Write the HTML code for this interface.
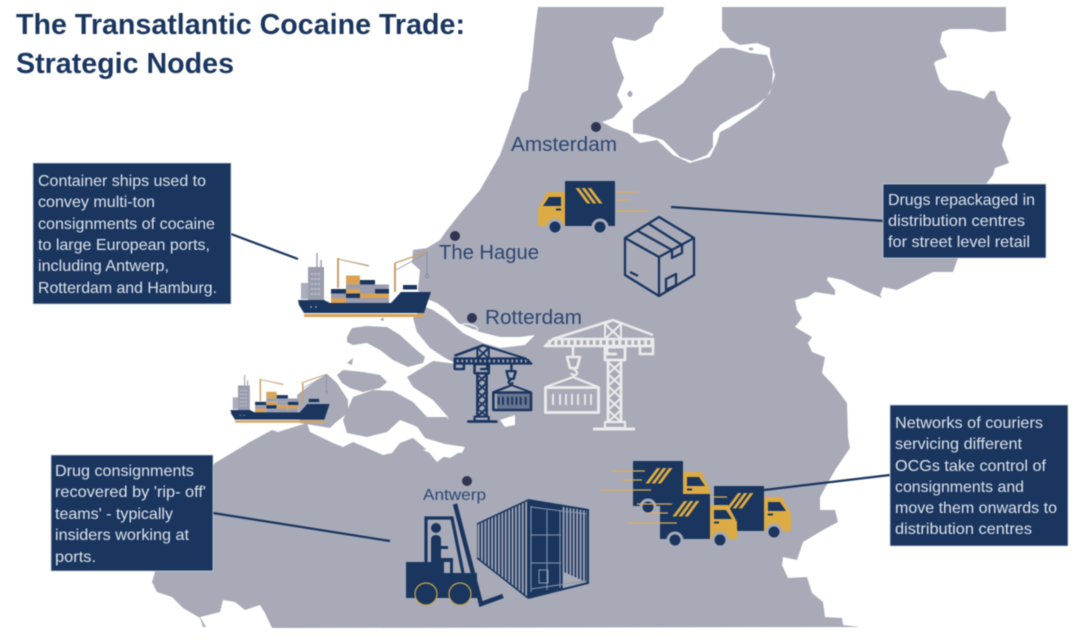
<!DOCTYPE html>
<html lang="en"><head><meta charset="utf-8"><title>The Transatlantic Cocaine Trade: Strategic Nodes</title>
<style>
html,body{margin:0;padding:0;background:#fff}
svg{display:block;filter:blur(.4px)}
.tt{font:bold 28.5px "Liberation Sans",sans-serif;fill:#1a365f}
.c{font:20px "Liberation Sans",sans-serif;fill:#2d4670}
.b{font:15.6px "Liberation Sans",sans-serif;fill:#dde1ea}
.box{fill:#1a365f;stroke:#c5ccd9;stroke-width:.8}
.con{stroke:#1a365f;stroke-width:2.2;fill:none}
</style></head><body>
<svg width="1080" height="640" viewBox="0 0 1080 640" xmlns="http://www.w3.org/2000/svg">
<defs>
<pattern id="cor" width="3.4" height="10" patternUnits="userSpaceOnUse"><rect width="3.4" height="10" fill="#a8aab8"/><rect width="1.7" height="10" fill="#1a365f"/></pattern>
<g id="ship">
 <rect x="308" y="267" width="16" height="33" fill="#9a9dae"/><rect x="301" y="283" width="7" height="16" fill="#a9acba"/>
 <path d="M317 253V267M321 260V267" stroke="#9a9dae" stroke-width="1.4"/>
 <path d="M311 274H321M311 279H321M311 284H321M311 289H321M311 294H321" stroke="#c4c6d0" stroke-width="1.5" stroke-dasharray="2.2 1.2"/>
 <rect x="331" y="289" width="15" height="4.5" fill="#1a365f"/><rect x="331" y="293.5" width="15" height="4.5" fill="#9a9dae"/><rect x="331" y="298" width="15" height="5" fill="#d9a257"/>
 <rect x="346" y="275.5" width="14" height="4.5" fill="#d9a257"/><rect x="346" y="280" width="14" height="4.5" fill="#d9a257"/><rect x="346" y="284.5" width="14" height="4.5" fill="#9a9dae"/><rect x="346" y="289" width="14" height="4.5" fill="#d9a257"/><rect x="346" y="293.5" width="14" height="4.5" fill="#1a365f"/><rect x="346" y="298" width="14" height="5" fill="#9a9dae"/>
 <rect x="360" y="280" width="15" height="4.5" fill="#1a365f"/><rect x="360" y="284.5" width="15" height="4.5" fill="#9a9dae"/><rect x="360" y="289" width="15" height="4.5" fill="#9a9dae"/><rect x="360" y="293.5" width="15" height="4.5" fill="#d9a257"/><rect x="360" y="298" width="15" height="5" fill="#9a9dae"/>
 <rect x="375" y="284.5" width="14" height="4.5" fill="#9a9dae"/><rect x="375" y="289" width="14" height="4.5" fill="#1a365f"/><rect x="375" y="293.5" width="14" height="4.5" fill="#d9a257"/><rect x="375" y="298" width="14" height="5" fill="#9a9dae"/>
 <path d="M338 258V288M395 263V292" stroke="#c9a06a" stroke-width="2"/>
 <path d="M338 259L369 266" stroke="#c9a06a" stroke-width="1.4"/><path d="M339 259L369 265" stroke="#ccced8" stroke-width=".8"/>
 <path d="M395 263L427 252" stroke="#c9a06a" stroke-width="1.4"/><path d="M396 270L427 253" stroke="#8f9ab0" stroke-width=".8"/>
 <path d="M427 252V275" stroke="#7d87a0" stroke-width=".8" fill="none"/><circle cx="427" cy="276" r="1.6" fill="none" stroke="#7d87a0" stroke-width=".8"/>
 <rect x="403" y="285" width="14" height="4.5" fill="#1a365f"/>
 <path d="M298 300H324L330 303H391L401 292H431L424 313H304L299 305Z" fill="#1a365f"/>
 <rect x="304" y="314" width="120" height="3" fill="#d9a257"/>
 <circle cx="311" cy="307" r=".7" fill="#dde1ea"/><circle cx="316" cy="307" r=".7" fill="#dde1ea"/>
</g>
<g id="crane" fill="none" stroke-linejoin="round">
 <path d="M545 346L553 339H653V346Z" stroke-width="2.5"/>
 <path d="M548 342.5H652" stroke-width="5" stroke-dasharray="3 3.4"/>
 <path d="M553 339L613 320L653 335" stroke-width="2.5"/>
 <path d="M605 339V324L613 320L621 324V339M605 324L621 339M621 324L605 339" stroke-width="2"/>
 <path d="M605 347H625V360H605ZM607 347V354H617" stroke-width="2.8"/>
 <rect x="640" y="346" width="13" height="8" stroke-width="2.6"/>
 <path d="M608 360V422M621 360V422" stroke-width="2.8"/>
 <path d="M608 362L621 374L608 386L621 398L608 410L621 422M621 362L608 374L621 386L608 398L621 410L608 422" stroke-width="2"/>
 <rect x="605" y="422" width="20" height="6" stroke-width="2.2"/>
 <path d="M593 429H635" stroke-width="3"/>
 <path d="M573 346V357" stroke-width="2.6"/>
 <path d="M567 357H580L577 368H570Z" stroke-width="2.6"/>
 <path d="M573 368L577 372C578 376 572 376 571 373M573 377L546 387M573 377L598 387" stroke-width="2.2"/>
 <rect x="545.5" y="387.5" width="53" height="25" stroke-width="2.8"/>
 <path d="M553 394V405M560 394V405M566 394V405M572 394V405M578 394V405M585 394V405M591 394V405" stroke-width="1.8"/>
</g>
<g id="truck">
 <path d="M50 11H68L77 28V45H50Z" fill="#dcab44"/>
 <path d="M54 16H66L72 25H54Z" fill="#1a365f"/><rect x="54" y="27.5" width="5" height="2" fill="#1a365f"/>
 <rect width="50" height="45" fill="#1a365f"/>
 <path d="M24 7H27.5L16 22.5H12.5ZM30 7H33.5L22 22.5H18.5ZM36 7H39.5L28 22.5H24.5Z" fill="#dcab44"/>
 <circle cx="15" cy="46" r="8.5" fill="#a8aab8"/><circle cx="60" cy="46" r="8.5" fill="#a8aab8"/>
 <circle cx="15" cy="46" r="5.5" fill="#1a365f"/><circle cx="60" cy="46" r="5.5" fill="#1a365f"/>
</g>
</defs>

<!-- map -->
<polygon fill="#a8aab8" points="538,7 1006,7 1006,31 990,32 975,29 950,29 942,32 940,42 945,52 947,57 936,61 934,63 936,70 940,82 948,90 960,91 975,96 984,99 990,91 995,91 998,101 1005,108 1011,118 1005,133 1002,145 1006,155 1009,163 995,168 993,175 986,184 965,250 958,258 953,272 933,272 917,280 897,290 883,287 880,295 882,298 863,290 843,280 828,277 827,280 835,290 835,295 815,292 808,297 795,300 797,310 802,318 795,327 812,337 808,343 812,352 825,357 822,373 835,387 847,403 848,437 850,448 835,470 820,497 820,510 835,510 838,522 823,530 803,542 797,560 783,557 782,565 788,578 807,577 812,593 823,602 825,617 842,618 843,625 860,627 272,628 265,613 260,605 245,610 235,602 223,600 220,612 200,617 206,627 203,627 200,618 183,608 172,597 157,592 152,582 155,572 180,500 215,463 250,442 272,430 278,432 307,423 310,432 333,443 343,447 353,442 367,448 383,455 392,453 400,443 413,438 427,450 437,462 450,452 462,453 465,447 445,444 425,438 418,428 424,424 437,430 449,425 448,417 433,400 413,387 407,377 433,361 457,364 445,358 430,348 417,332 413,318 428,302 418,290 420,270 412,263 413,250 427,248 440,240 447,230 463,210 480,190 500,155 522,93 528,90 532,60 535,30"/>
<!-- delta islands -->
<g fill="#a8aab8">
<polygon points="347,337 352,328 367,326 387,327 400,335 413,347 425,357 423,363 408,367 393,360 380,350 367,343 353,345 347,342"/>
<polygon points="347,363 353,358 352,365"/><polygon points="380,320 383,317 384,321"/>
<polygon points="337,375 343,370 363,372 380,375 387,382 380,388 363,392 350,388 342,383"/>
<polygon points="353,397 373,390 393,391 413,402 427,417 447,417 452,427 445,433 430,434 413,425 400,420 387,432 367,437 347,433 343,420"/>
<polygon points="297,395 310,385 327,374 337,383 348,400 348,413 335,423 330,428 300,423"/>
</g>
<!-- channels and lake -->
<g fill="#fff">
<polygon points="427,299 437,303 447,310 458,323 480,332 500,337 520,337 535,335 525,345 500,348 483,343 463,333 448,320 433,310 420,305"/>
<polygon points="500,420 515,415 515,425 505,427"/>
<polygon points="423,450 440,447 463,450 450,458 435,455"/>
<polygon points="664,7 663,15 655,23 652,32 635,41 615,37 612,42 617,60 624,78 617,95 623,107 613,118 602,122 613,128 628,133 640,143 657,140 673,155 690,163 710,157 717,143 720,132 730,127 757,108 770,93 775,75 770,55 770,48 757,43 740,45 730,40 722,30 722,7"/>
</g>
<ellipse cx="470" cy="327" rx="8" ry="2.5" fill="none" stroke="#fff" stroke-width="1" transform="rotate(15 470 327)"/>
<polygon fill="#a8aab8" points="633,120 640,113 660,100 683,83 695,67 720,48 733,48 750,53 767,55 773,70 772,87 767,97 753,107 733,117 720,125 713,133 713,147 707,155 692,161 680,157 663,140 647,135 633,133"/>
<ellipse cx="630" cy="94" rx="2.5" ry="3" fill="#a8aab8"/><ellipse cx="751" cy="49" rx="2.5" ry="1.5" fill="#a8aab8"/>

<!-- connectors -->
<path class="con" d="M231 234L298 259M671 207L884 221M764 490L890 475M213 513L390 541"/>

<!-- ships -->
<use href="#ship"/>
<use href="#ship" transform="translate(8.5 186.5) scale(.745)"/>

<!-- cranes -->
<use href="#crane" stroke="#ecebeb"/>
<use href="#crane" stroke="#1a365f" transform="matrix(-.71 0 0 .7 918 121)"/>
<use href="#crane" stroke="#1a365f" transform="matrix(-.71 0 0 .7 918.6 121.5)"/>
<rect x="497" y="393" width="35" height="16" fill="#1a365f" opacity=".45"/>

<!-- box -->
<g fill="none" stroke="#1a365f" stroke-width="2.3" stroke-linejoin="round">
<path d="M659 217L694 238V275L659 296L625 275V238ZM625 238L659 257L694 238M659 257V296M638 231L672 250V258L682 253V245L649 224"/>
<path d="M666 279L676 274V285L666 290ZM630 272L638 276"/>
</g>

<!-- trucks -->
<g stroke="#d9ae5a" stroke-width="1.2">
<path d="M603 192H637M607 200H628M599 211H648"/>
</g>
<use href="#truck" transform="translate(615 181) scale(-1 1)"/>
<use href="#truck" transform="translate(633 461)"/>
<use href="#truck" transform="translate(714 486)"/>
<use href="#truck" transform="translate(660 494)"/>
<g stroke="#d9ae5a" stroke-width="1.2">
<path d="M612 471H645M621 480H642M601 490H651M637 504H672M647 513H668M627 523H677M710 497H727"/>
</g>

<!-- forklift -->
<g>
<path d="M406 562H444V573H477V598H406Z" fill="#1a365f"/>
<path d="M426 562V518H452L463 573" fill="none" stroke="#1a365f" stroke-width="3.2"/>
<circle cx="436" cy="528" r="5" fill="#1a365f"/>
<path d="M431 540Q431 535 436 535Q441 535 441 540V546H448V549H441V558H453V573H450V562H431Z" fill="#1a365f"/>
<circle cx="426" cy="594" r="11" fill="#1a365f" stroke="#c9a44e" stroke-width="1.2"/>
<circle cx="460" cy="594" r="11" fill="#1a365f" stroke="#c9a44e" stroke-width="1.2"/>
<path d="M455 504L481 604L503 596" fill="none" stroke="#1a365f" stroke-width="4.5"/>
</g>

<!-- shipping container -->
<g>
<polygon points="477,524 528,500 528,598 477,558" fill="url(#cor)"/>
<path d="M477 524L528 500M477 558L528 598" stroke="#1a365f" stroke-width="1.5"/>
<polygon points="528,500 562,506 562,590 528,598" fill="#1a365f"/>
<polygon points="562,506 588,510 588,583 562,590" fill="url(#cor)"/>
<polygon points="564,572 588,583 564,588" fill="#a8aab8"/>
<path d="M528 500L588 510V583L528 598" fill="none" stroke="#1a365f" stroke-width="2"/>
<path d="M531 506V592M547 510V590M560 510V588M531 507L586 514M531 535H561M531 563H561M531 589L586 581" fill="none" stroke="#8b97ae" stroke-width="1"/>
<path d="M539 570H548V583H539Z" fill="none" stroke="#8b97ae" stroke-width="1"/>
</g>

<!-- title -->
<text class="tt" x="16" y="34" textLength="449" lengthAdjust="spacingAndGlyphs">The Transatlantic Cocaine Trade:</text>
<text class="tt" x="16" y="73" textLength="218" lengthAdjust="spacingAndGlyphs">Strategic Nodes</text>

<!-- cities -->
<g fill="#2f3552">
<circle cx="596" cy="127" r="5"/><circle cx="455" cy="236" r="5"/><circle cx="472" cy="318" r="5"/><circle cx="467" cy="481" r="5"/>
</g>
<text class="c" x="511" y="151" textLength="106" lengthAdjust="spacingAndGlyphs">Amsterdam</text>
<text class="c" x="439" y="259" textLength="100" lengthAdjust="spacingAndGlyphs">The Hague</text>
<text class="c" x="485" y="324" textLength="97" lengthAdjust="spacingAndGlyphs">Rotterdam</text>
<text class="c" x="423" y="500" textLength="63" lengthAdjust="spacingAndGlyphs" style="font-size:16px">Antwerp</text>

<!-- callouts -->
<rect class="box" x="33" y="163" width="198" height="141"/>
<text class="b" x="38" y="186" textLength="168" lengthAdjust="spacingAndGlyphs">Container ships used to</text>
<text class="b" x="38" y="207" textLength="117" lengthAdjust="spacingAndGlyphs">convey multi-ton</text>
<text class="b" x="38" y="229" textLength="177" lengthAdjust="spacingAndGlyphs">consignments of cocaine</text>
<text class="b" x="38" y="250" textLength="172" lengthAdjust="spacingAndGlyphs">to large European ports,</text>
<text class="b" x="38" y="271" textLength="131" lengthAdjust="spacingAndGlyphs">including Antwerp,</text>
<text class="b" x="38" y="293" textLength="179" lengthAdjust="spacingAndGlyphs">Rotterdam and Hamburg.</text>

<rect class="box" x="883" y="184" width="163" height="74"/>
<text class="b" x="888" y="205" textLength="147" lengthAdjust="spacingAndGlyphs">Drugs repackaged in</text>
<text class="b" x="888" y="226" textLength="137" lengthAdjust="spacingAndGlyphs">distribution centres</text>
<text class="b" x="888" y="247" textLength="142" lengthAdjust="spacingAndGlyphs">for street level retail</text>

<rect class="box" x="890" y="405" width="178" height="141"/>
<text class="b" x="895" y="428" textLength="148" lengthAdjust="spacingAndGlyphs">Networks of couriers</text>
<text class="b" x="895" y="449" textLength="127" lengthAdjust="spacingAndGlyphs">servicing different</text>
<text class="b" x="895" y="471" textLength="151" lengthAdjust="spacingAndGlyphs">OCGs take control of</text>
<text class="b" x="895" y="492" textLength="129" lengthAdjust="spacingAndGlyphs">consignments and</text>
<text class="b" x="895" y="513" textLength="162" lengthAdjust="spacingAndGlyphs">move them onwards to</text>
<text class="b" x="895" y="534" textLength="137" lengthAdjust="spacingAndGlyphs">distribution centres</text>

<rect class="box" x="51" y="455" width="162" height="116"/>
<text class="b" x="55" y="476" textLength="139" lengthAdjust="spacingAndGlyphs">Drug consignments</text>
<text class="b" x="55" y="497" textLength="151" lengthAdjust="spacingAndGlyphs">recovered by 'rip- off'</text>
<text class="b" x="55" y="519" textLength="118" lengthAdjust="spacingAndGlyphs">teams' - typically</text>
<text class="b" x="55" y="540" textLength="134" lengthAdjust="spacingAndGlyphs">insiders working at</text>
<text class="b" x="55" y="562" textLength="41" lengthAdjust="spacingAndGlyphs">ports.</text>
</svg>
</body></html>
